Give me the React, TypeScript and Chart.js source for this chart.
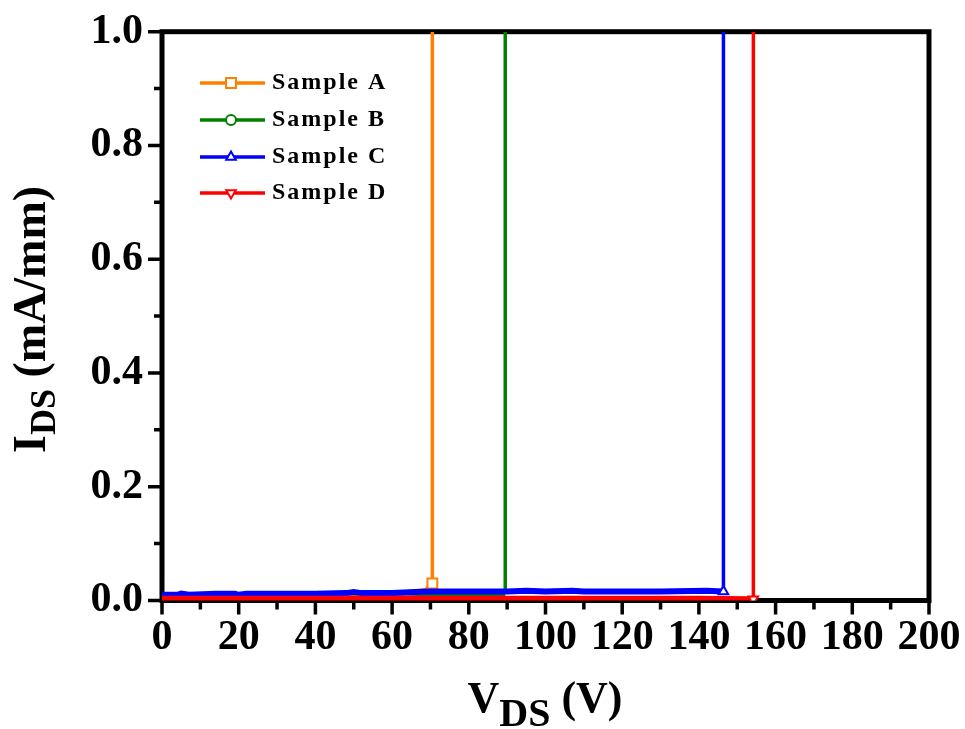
import { useEffect, useRef } from 'react';
import { Chart, registerables } from 'chart.js';
import { drawPoint } from 'chart.js/helpers';

Chart.register(...registerables);

// ---- Data (V in volts, I in mA/mm) ----
const VA = [0, 20, 40, 60, 66.5, 69, 70.5, 70.5];
const IA = [0.007, 0.009, 0.010, 0.011, 0.015, 0.017, 0.030, 1.0];

const VB = [0, 20, 40, 60, 80, 89.5, 89.5];
const IB = [0.007, 0.008, 0.009, 0.010, 0.011, 0.012, 1.0];

const VC = [0, 4, 5, 7, 14, 19, 20, 22, 30, 40, 48, 50, 52, 60, 66, 70, 80, 90, 95, 100, 107, 110, 120, 130, 142, 146.4, 146.4];
const IC = [0.010, 0.010, 0.012, 0.010, 0.012, 0.012, 0.010, 0.012, 0.012, 0.012, 0.013, 0.015, 0.013, 0.013, 0.015, 0.016, 0.016, 0.016, 0.017, 0.016, 0.017, 0.016, 0.016, 0.016, 0.017, 0.016, 1.0];

const VD = [0, 20, 40, 60, 80, 100, 120, 140, 154.2, 154.2];
const ID = [0.003, 0.003, 0.003, 0.003, 0.003, 0.003, 0.003, 0.003, 0.002, 1.0];

const SERIES_NAMES = ['Sample A', 'Sample B', 'Sample C', 'Sample D'];
const X_TICKS = [0, 20, 40, 60, 80, 100, 120, 140, 160, 180, 200];
const X_MINOR = [10, 30, 50, 70, 90, 110, 130, 150, 170, 190];
const Y_TICKS = [0, 0.2, 0.4, 0.6, 0.8, 1.0];
const Y_MINOR = [0.1, 0.3, 0.5, 0.7, 0.9];

const COLORS = ['#FF8000', '#008000', '#0000FF', '#FF0000'];
const FONT = '"Liberation Serif", "Times New Roman", serif';

const AREA = { left: 162, top: 31.7, right: 929, bottom: 600.5 };
const W = 965;
const H = 729;

function pts(xs: number[], ys: number[]) {
  return xs.map((x, i) => ({ x, y: ys[i] }));
}

const MARKERS = [
  { style: 'rect', rot: 0, r: 7 },
  { style: 'circle', rot: 0, r: 5 },
  { style: 'triangle', rot: 0, r: 5.5 },
  { style: 'triangle', rot: 180, r: 5.5 },
];

const decorPlugin = {
  id: 'decor',
  beforeDatasetsDraw(chart: any) {
    const { ctx, chartArea: a, scales } = chart;
    const x = scales.x;
    const y = scales.y;
    ctx.save();
    ctx.strokeStyle = '#000';
    ctx.lineWidth = 5;
    ctx.strokeRect(a.left, a.top, a.right - a.left, a.bottom - a.top);
    ctx.lineWidth = 3.5;
    ctx.beginPath();
    X_TICKS.forEach((v) => {
      const px = x.getPixelForValue(v);
      ctx.moveTo(px, a.bottom);
      ctx.lineTo(px, a.bottom + 14);
    });
    X_MINOR.forEach((v) => {
      const px = x.getPixelForValue(v);
      ctx.moveTo(px, a.bottom);
      ctx.lineTo(px, a.bottom + 9);
    });
    Y_TICKS.forEach((v) => {
      const py = y.getPixelForValue(v);
      ctx.moveTo(a.left, py);
      ctx.lineTo(a.left - 14, py);
    });
    Y_MINOR.forEach((v) => {
      const py = y.getPixelForValue(v);
      ctx.moveTo(a.left, py);
      ctx.lineTo(a.left - 8, py);
    });
    ctx.stroke();
    ctx.restore();
  },
  afterDraw(chart: any) {
    const { ctx } = chart;
    ctx.save();
    ctx.fillStyle = '#000';
    ctx.textAlign = 'left';
    ctx.textBaseline = 'alphabetic';

    // Y title (rotated)
    ctx.save();
    ctx.translate(45, 453);
    ctx.rotate(-Math.PI / 2);
    let cx = 0;
    ctx.font = `bold 46px ${FONT}`;
    ctx.fillText('I', cx, 0);
    cx += ctx.measureText('I').width;
    ctx.font = `bold 36px ${FONT}`;
    ctx.fillText('DS', cx, 10);
    cx += ctx.measureText('DS').width;
    ctx.font = `bold 46px ${FONT}`;
    ctx.fillText(' (mA/mm)', cx, 0);
    ctx.restore();

    // X title
    ctx.font = `bold 44px ${FONT}`;
    const wV = ctx.measureText('V').width;
    const wP = ctx.measureText(' (V)').width;
    ctx.font = `bold 40px ${FONT}`;
    const wD = ctx.measureText('DS').width;
    let sx = 545 - (wV + wD + wP) / 2;
    ctx.font = `bold 44px ${FONT}`;
    ctx.fillText('V', sx, 712);
    sx += wV;
    ctx.font = `bold 40px ${FONT}`;
    ctx.fillText('DS', sx, 726);
    sx += wD;
    ctx.font = `bold 44px ${FONT}`;
    ctx.fillText(' (V)', sx, 712);

    // Legend
    const ys = [83, 120, 157, 193];
    SERIES_NAMES.forEach((name, i) => {
      const ly = ys[i];
      ctx.strokeStyle = COLORS[i];
      ctx.lineWidth = 3.5;
      ctx.beginPath();
      ctx.moveTo(200, ly);
      ctx.lineTo(265, ly);
      ctx.stroke();
      ctx.fillStyle = '#fff';
      ctx.strokeStyle = COLORS[i];
      ctx.lineWidth = 2;
      drawPoint(ctx, { pointStyle: MARKERS[i].style as any, rotation: MARKERS[i].rot, radius: MARKERS[i].r, borderWidth: 2 }, 231, ly);
      ctx.fillStyle = '#000';
      ctx.font = `bold 24px ${FONT}`;
      (ctx as any).letterSpacing = '2px';
      ctx.textBaseline = 'middle';
      ctx.fillText(name, 272, ly);
      (ctx as any).letterSpacing = '0px';
      ctx.textBaseline = 'alphabetic';
    });
    ctx.restore();
  },
};

function makeDataset(i: number, xs: number[], ys: number[], markIdx: number, order: number) {
  const m = MARKERS[i];
  return {
    label: SERIES_NAMES[i],
    data: pts(xs, ys),
    borderColor: COLORS[i],
    backgroundColor: COLORS[i],
    borderWidth: 3.5,
    segment: {
      borderWidth: (c: any) => (ys[c.p1DataIndex] > 0.5 ? 3.5 : 6),
    },
    tension: 0,
    order,
    pointStyle: m.style,
    rotation: m.rot,
    pointRadius: (c: any) => (c.dataIndex === markIdx ? m.r : 0),
    pointBackgroundColor: '#fff',
    pointBorderColor: COLORS[i],
    pointBorderWidth: 2,
  };
}

export default function App() {
  const ref = useRef<HTMLCanvasElement>(null);
  useEffect(() => {
    const chart = new Chart(ref.current!, {
      type: 'line',
      data: {
        datasets: [
          makeDataset(0, VA, IA, VA.length - 2, 2),
          makeDataset(1, VB, IB, -1, 3),
          makeDataset(2, VC, IC, VC.length - 2, 1),
          makeDataset(3, VD, ID, VD.length - 2, 0),
        ] as any,
      },
      options: {
        animation: false,
        responsive: false,
        maintainAspectRatio: false,
        devicePixelRatio: 1,
        events: [],
        layout: {
          padding: { top: AREA.top, right: W - AREA.right, left: 0, bottom: 0 },
        },
        plugins: { legend: { display: false }, tooltip: { enabled: false } },
        scales: {
          x: {
            type: 'linear',
            min: 0,
            max: 200,
            afterBuildTicks: (s: any) => {
              s.ticks = X_TICKS.map((v) => ({ value: v }));
            },
            afterFit: (s: any) => {
              s.height = H - AREA.bottom;
            },
            grid: { display: false, drawTicks: true, tickLength: 12 },
            border: { display: false },
            ticks: {
              padding: 0,
              maxRotation: 0,
              autoSkip: false,
              color: '#000',
              font: { family: FONT, size: 42, weight: 'bold' },
              callback: (v: any) => String(v),
            },
          },
          y: {
            type: 'linear',
            min: 0,
            max: 1,
            afterBuildTicks: (s: any) => {
              s.ticks = Y_TICKS.map((v) => ({ value: v }));
            },
            afterFit: (s: any) => {
              s.width = AREA.left;
            },
            grid: { display: false, drawTicks: true, tickLength: 19 },
            border: { display: false },
            ticks: {
              padding: 0,
              autoSkip: false,
              color: '#000',
              font: { family: FONT, size: 42, weight: 'bold' },
              callback: (v: any) => Number(v).toFixed(1),
            },
          },
        },
      },
      plugins: [decorPlugin],
    } as any);
    return () => chart.destroy();
  }, []);
  return (
    <div style={{ position: 'absolute', left: 0, top: 0, width: W, height: H, background: '#fff' }}>
      <canvas ref={ref} width={W} height={H} style={{ display: 'block' }} />
    </div>
  );
}
